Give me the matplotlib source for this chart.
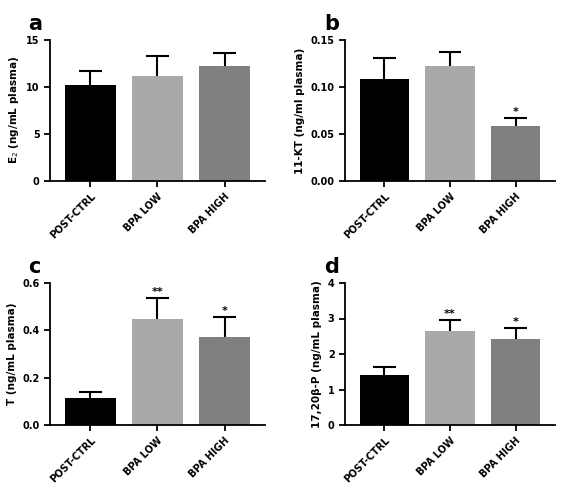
import matplotlib
matplotlib.use("Agg")
import matplotlib.pyplot as plt

categories = ["POST-CTRL", "BPA LOW", "BPA HIGH"]
colors = ["#000000", "#a9a9ab", "#808080"]
e2 = [10.2, 11.2, 12.2]; e2_err = [1.5, 2.1, 1.4]
kt = [0.109, 0.122, 0.058]; kt_err = [0.022, 0.015, 0.009]
t = [0.115, 0.45, 0.37]; t_err = [0.025, 0.085, 0.085]
p = [1.42, 2.65, 2.42]; p_err = [0.2, 0.3, 0.3]
panels = [
    ("a", e2, e2_err, "E$_2$ (ng/mL plasma)", (0, 15), [0, 5, 10, 15], "{:.0f}", ["", "", ""]),
    ("b", kt, kt_err, "11-KT (ng/ml plasma)", (0, 0.15), [0, 0.05, 0.10, 0.15], "{:.2f}", ["", "", "*"]),
    ("c", t, t_err, "T (ng/mL plasma)", (0, 0.6), [0, 0.2, 0.4, 0.6], "{:.1f}", ["", "**", "*"]),
    ("d", p, p_err, "17,20β-P (ng/mL plasma)", (0, 4), [0, 1, 2, 3, 4], "{:.0f}", ["", "**", "*"]),
]
W, H = 581, 487
boxes = [(50, 40, 265, 181), (345, 40, 555, 181), (50, 283, 265, 425), (345, 283, 555, 425)]
fig = plt.figure(figsize=(W/100, H/100), dpi=100)
for (lab, v, e, yl, lim, ticks, fmt, stars), (x0, y0, x1, y1) in zip(panels, boxes):
    ax = fig.add_axes([x0/W, 1-y1/H, (x1-x0)/W, (y1-y0)/H])
    x = list(range(len(categories)))
    ax.bar(x, v, width=0.75, color=colors, zorder=2)
    tops = [vi + ei for vi, ei in zip(v, e)]
    ax.vlines(x, v, tops, color="black", lw=1.5, zorder=1)
    ax.hlines(tops, [xi - 0.17 for xi in x], [xi + 0.17 for xi in x], color="black", lw=1.5, zorder=1)
    for i, s in enumerate(stars):
        if s:
            ax.text(i, tops[i] + lim[1]*0.01, s, ha="center", va="bottom", fontsize=8, fontweight="bold")
    ax.set_ylim(*lim)
    ax.set_xlim(-0.6, 2.6)
    ax.set_yticks(ticks)
    ax.set_yticklabels([fmt.format(tk) for tk in ticks], fontsize=7, fontweight="bold")
    ax.set_xticks(x)
    ax.set_xticklabels(categories, rotation=45, ha="right", rotation_mode="anchor", fontsize=7, fontweight="bold")
    ax.set_ylabel(yl, fontsize=7.5, fontweight="bold")
    for sp in ["top", "right"]:
        ax.spines[sp].set_visible(False)
    for sp in ["left", "bottom"]:
        ax.spines[sp].set_linewidth(1.3)
    ax.tick_params(width=1.3, length=4)
    ax.text(-0.1, 1.04, lab, transform=ax.transAxes, fontsize=15, fontweight="bold", ha="left", va="bottom")
fig.savefig("out.png", dpi=100)
